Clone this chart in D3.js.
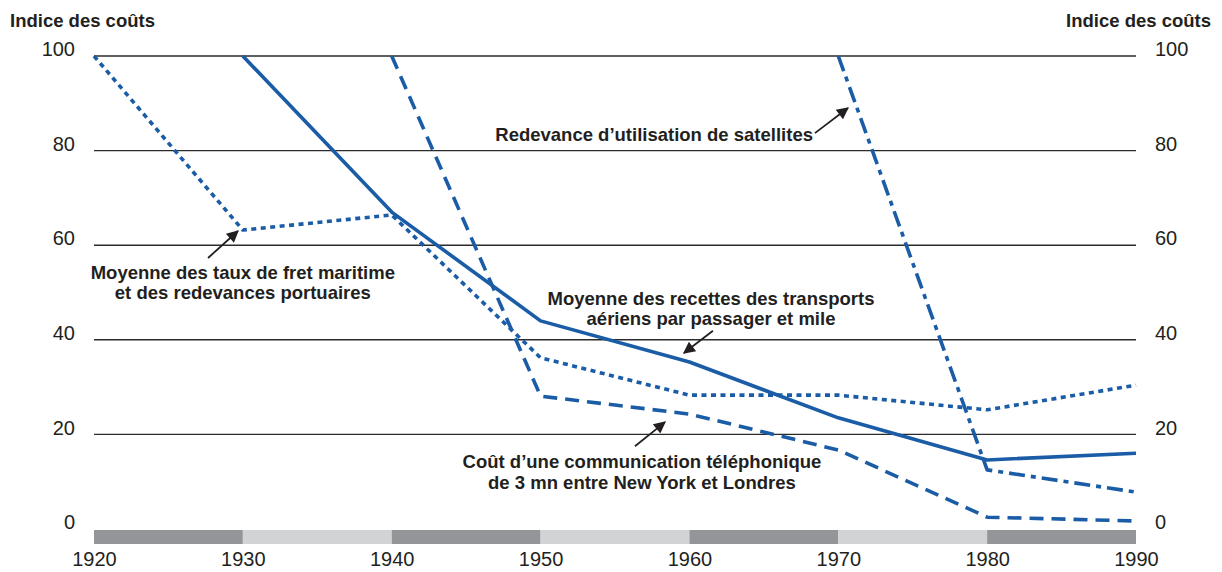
<!DOCTYPE html>
<html><head><meta charset="utf-8">
<script src="https://cdn.jsdelivr.net/npm/d3@7/dist/d3.min.js"></script>
<style>
html,body{margin:0;padding:0;background:#fff;}
svg{display:block;}
text{font-family:"Liberation Sans",Arial,sans-serif;fill:#231f20;}
</style></head>
<body><svg id="c" width="1222" height="572"></svg>
<script>
// ---- Data ----
const years = [1920, 1930, 1940, 1950, 1960, 1970, 1980, 1990];
const yTicks = [0, 20, 40, 60, 80, 100];
const xTickLabels = ["1920", "1930", "1940", "1950", "1960", "1970", "1980", "1990"];
const airFares   = [null, 100, 67, 44, 35.3, 23.5, 14.6, 16];      // solid
const seaFreight = [100, 63.2, 66.4, 36.2, 28.3, 28.3, 25.2, 30.4]; // dotted
const phoneCost  = [null, null, 100, 28.1, 24.3, 16.7, 2.5, 1.7];  // dashed
const satellite  = [null, null, null, null, null, 100, 12.5, 7.8]; // dash-dot
const axisTitle = "Indice des coûts";
const labelSat = ["Redevance d\u2019utilisation de satellites"];
const labelSea = ["Moyenne des taux de fret maritime", "et des redevances portuaires"];
const labelAir = ["Moyenne des recettes des transports", "aériens par passager et mile"];
const labelPhone = ["Coût d\u2019une communication téléphonique", "de 3 mn entre New York et Londres"];

// ---- Layout ----
const svg = d3.select("#c");
const x = d3.scaleLinear().domain([1920, 1990]).range([94, 1136]);
const y = d3.scaleLinear().domain([0, 100]).range([529, 56]);
const blue = "#1a5ca6";
const noteSize = 18.5;

// bottom decade band
const decades = d3.pairs(years);
svg.append("g").selectAll("rect").data(decades).join("rect")
  .attr("x", d => x(d[0])).attr("width", d => x(d[1]) - x(d[0]))
  .attr("y", y(0) + 1).attr("height", 14)
  .attr("fill", (d, i) => i % 2 === 0 ? "#939598" : "#d1d3d4");

// gridlines (no 0 line)
svg.append("g").selectAll("line").data(yTicks.filter(v => v > 0)).join("line")
  .attr("x1", x(1920)).attr("x2", x(1990))
  .attr("y1", d => y(d)).attr("y2", d => y(d))
  .attr("stroke", "#2b2b2b").attr("stroke-width", 1.4);

// y axes via d3 axes (labels only)
const yL = svg.append("g").attr("transform", `translate(${x(1920) - 19},0)`)
  .call(d3.axisLeft(y).tickValues(yTicks).tickSize(0).tickPadding(0));
const yR = svg.append("g").attr("transform", `translate(${x(1990) + 19},0)`)
  .call(d3.axisRight(y).tickValues(yTicks).tickSize(0).tickPadding(0));
[yL, yR].forEach(g => {
  g.select(".domain").remove();
  g.selectAll("text").attr("font-size", 20).attr("font-family", "Liberation Sans, Arial, sans-serif")
    .attr("fill", "#231f20").attr("dy", "-0.02em");
});

// x axis
const xa = svg.append("g").attr("transform", `translate(0,${y(0) + 20})`)
  .call(d3.axisBottom(x).tickValues(years).tickFormat((d, i) => xTickLabels[i]).tickSize(0).tickPadding(3));
xa.select(".domain").remove();
xa.selectAll("text").attr("font-size", 20).attr("font-family", "Liberation Sans, Arial, sans-serif").attr("fill", "#231f20");

// axis titles
svg.append("text").attr("x", 10).attr("y", 27).attr("font-size", noteSize).attr("font-weight", "bold").text(axisTitle);
svg.append("text").attr("x", 1211).attr("y", 27).attr("text-anchor", "end").attr("font-size", noteSize).attr("font-weight", "bold").text(axisTitle);

// series lines
const line = d3.line().defined(d => d[1] != null).x(d => x(d[0])).y(d => y(d[1]));
const series = [
  {v: seaFreight, dash: "5,4.5"},
  {v: phoneCost, dash: "14,8"},
  {v: airFares, dash: null},
  {v: satellite, dash: "16,6,5,6"}
];
series.forEach(s => {
  svg.append("path").datum(years.map((yr, i) => [yr, s.v[i]]))
    .attr("d", line).attr("fill", "none").attr("stroke", blue)
    .attr("stroke-width", 3.6).attr("stroke-linejoin", "round")
    .attr("stroke-dasharray", s.dash);
});

// annotations
svg.append("defs").append("marker").attr("id", "ah").attr("viewBox", "0 0 10 10")
  .attr("refX", 9).attr("refY", 5).attr("markerWidth", 15).attr("markerHeight", 12)
  .attr("markerUnits", "userSpaceOnUse").attr("orient", "auto")
  .append("path").attr("d", "M0,0 L10,5 L0,10 z").attr("fill", "#231f20");

const arrows = [
  {from: [1968.43, 83.7], to: [1970.65, 89.0]},
  {from: [1927.66, 57.3], to: [1929.67, 63.0]},
  {from: [1961.58, 41.9], to: [1959.63, 37.2]},
  {from: [1956.34, 17.5], to: [1958.36, 22.6]}
];
svg.append("g").selectAll("line").data(arrows).join("line")
  .attr("x1", d => x(d.from[0])).attr("y1", d => y(d.from[1]))
  .attr("x2", d => x(d.to[0])).attr("y2", d => y(d.to[1]))
  .attr("stroke", "#231f20").attr("stroke-width", 1.8).attr("marker-end", "url(#ah)");

const notes = [
  {lines: labelSat, at: [1968.3, 83.3], anchor: "end"},
  {lines: labelSea, at: [1930.0, 54.3], anchor: "middle"},
  {lines: labelAir, at: [1961.45, 48.8], anchor: "middle"},
  {lines: labelPhone, at: [1956.81, 14.2], anchor: "middle"}
];
notes.forEach(n => {
  const t = svg.append("text").attr("text-anchor", n.anchor)
    .attr("font-size", noteSize).attr("font-weight", "bold");
  n.lines.forEach((l, i) => {
    t.append("tspan").attr("x", x(n.at[0])).attr("y", y(n.at[1]) + i * 20.5 + 6.5).text(l);
  });
});
</script>
</body></html>
